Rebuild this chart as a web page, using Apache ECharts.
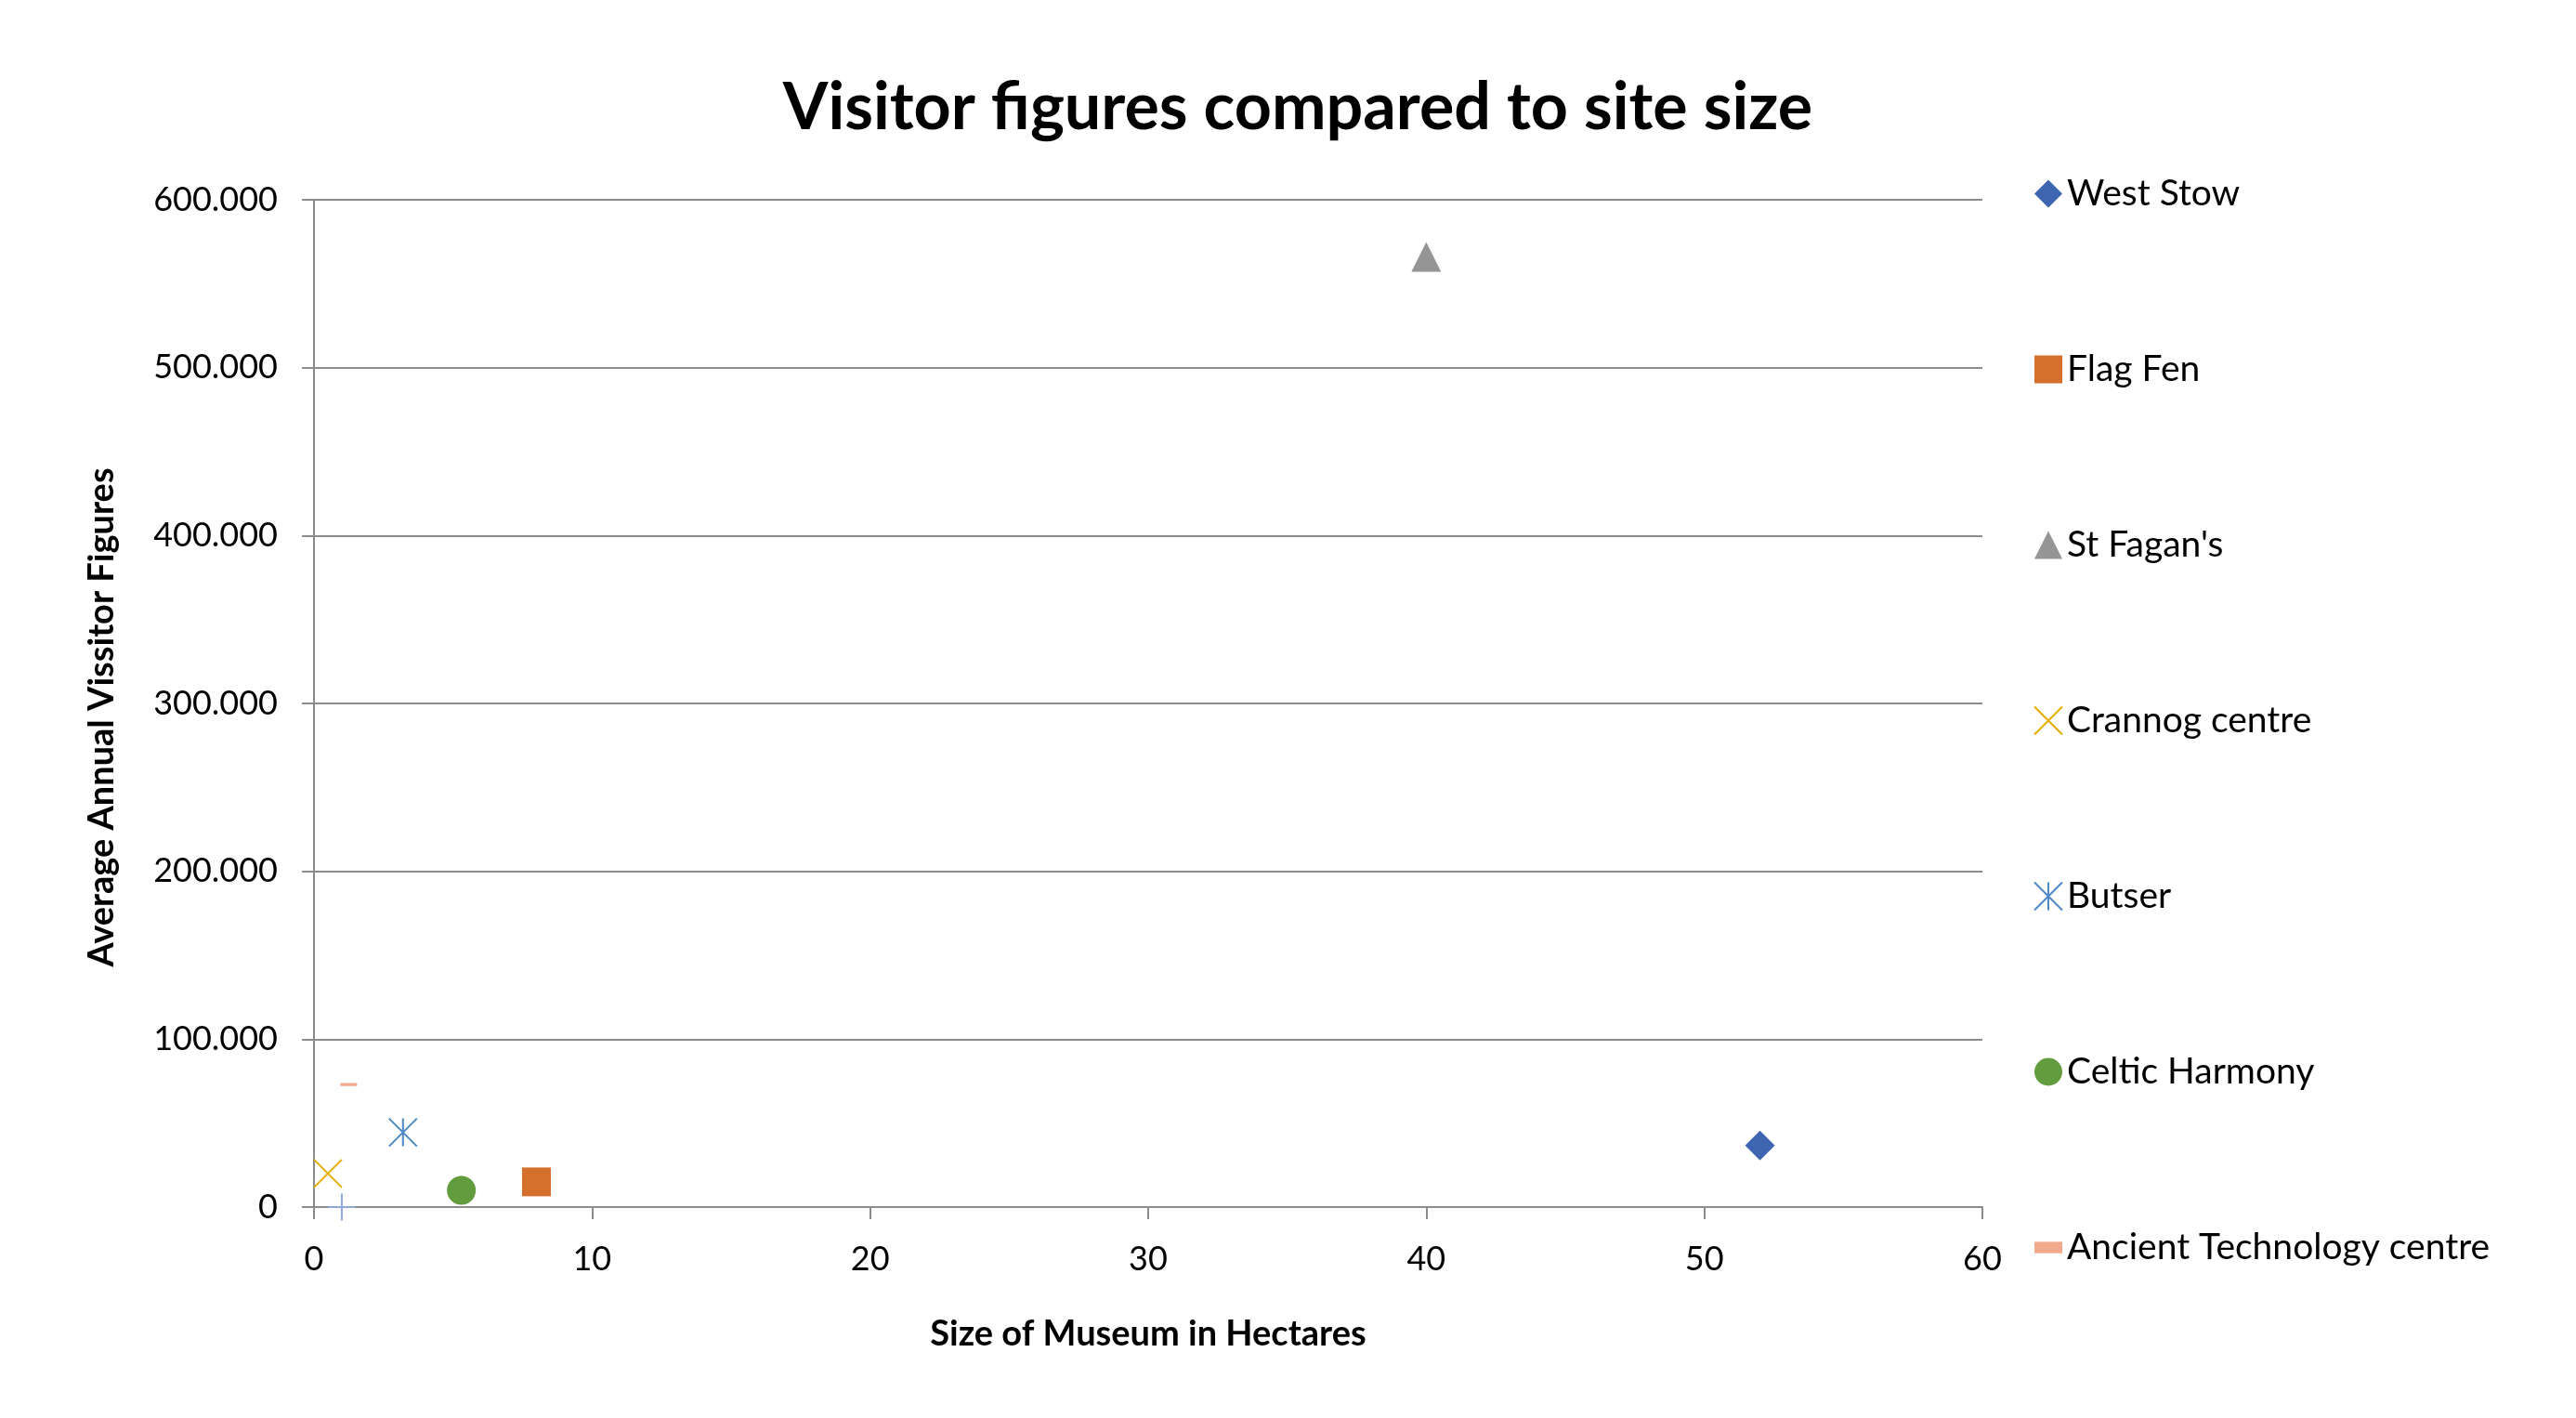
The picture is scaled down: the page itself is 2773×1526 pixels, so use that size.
<!DOCTYPE html>
<html>
<head>
<meta charset="utf-8">
<title>Visitor figures compared to site size</title>
<script src="https://cdn.jsdelivr.net/npm/echarts@6/dist/echarts.min.js"></script>
<style>
  html, body { margin: 0; padding: 0; background: #fff; }
  #chart { width: 2773px; height: 1526px; }
</style>
</head>
<body>
<div id="chart"></div>
<script>
// museums shown in the legend, in legend order
var siteNames = ['West Stow', 'Flag Fen', "St Fagan's", 'Crannog centre', 'Butser', 'Celtic Harmony', 'Ancient Technology centre'];
// site size in hectares
var siteSize = [52, 8, 40, 0.5, 3.2, 5.3, 1.25];
// average annual visitors
var siteVisitors = [36700, 15000, 566000, 20000, 44500, 10000, 73000];
// one extra point plotted without a legend entry
var extraPoint = [1, 0];

var xTicks = { min: 0, max: 60, step: 10 };
var yTicks = { min: 0, max: 600000, step: 100000 };

var colors = ['#3E66B0', '#D5702C', '#959595', '#E6AC00', '#4D88C5', '#629C3F', '#F3AA8C'];
var symbols = [
    'diamond',
    'rect',
    'triangle',
    'path://M0,0L10,10M10,0L0,10',
    'path://M0,0L10,10M10,0L0,10M5,0L5,10',
    'circle',
    'path://M0,0H17V7H0Z'
];
var sizes = [32, 31, 32, 30, 30, 31, [18, 8]];
var stroked = [false, false, false, true, true, false, false];

var font = 'Lato, "Open Sans", sans-serif';
var gridGray = '#8c8c8c';

var series = siteNames.map(function (name, i) {
    var style = stroked[i]
        ? { color: 'rgba(0,0,0,0)', borderColor: colors[i], borderWidth: 2, opacity: 1 }
        : { color: colors[i], opacity: 1 };
    return {
        name: name,
        type: 'scatter',
        symbol: symbols[i],
        symbolSize: sizes[i],
        symbolKeepAspect: true,
        itemStyle: style,
        data: [[siteSize[i], siteVisitors[i]]]
    };
});
series.push({
    name: 'extra',
    type: 'scatter',
    symbol: 'path://M0,5L10,5M5,0L5,10',
    symbolSize: 29,
    itemStyle: { color: 'rgba(0,0,0,0)', borderColor: '#8FA9DC', borderWidth: 2, opacity: 1 },
    data: [extraPoint]
});

var option = {
    animation: false,
    backgroundColor: '#fff',
    title: {
        text: 'Visitor figures compared to site size',
        left: 1392,
        top: 76,
        textAlign: 'center',
        textStyle: { fontFamily: font, fontWeight: 'bold', fontSize: 70, color: '#000' }
    },
    legend: {
        data: siteNames,
        orient: 'vertical',
        left: 2184,
        top: 184,
        itemWidth: 30,
        itemHeight: 30,
        itemGap: 150,
        textStyle: { fontFamily: font, fontSize: 39, color: '#000', padding: [0, 0, 0, 0] }
    },
    grid: { left: 338, right: 639, top: 215, bottom: 227, containLabel: false },
    xAxis: {
        type: 'value',
        min: xTicks.min,
        max: xTicks.max,
        interval: xTicks.step,
        name: 'Size of Museum in Hectares',
        nameLocation: 'middle',
        nameGap: 118,
        nameTextStyle: { fontFamily: font, fontWeight: 'bold', fontSize: 38, color: '#000' },
        axisLine: { show: true, lineStyle: { color: gridGray, width: 2 } },
        axisTick: { show: true, length: 13, lineStyle: { color: gridGray, width: 2 } },
        axisLabel: { fontFamily: font, fontSize: 36, color: '#000', margin: 38 },
        splitLine: { show: false }
    },
    yAxis: {
        type: 'value',
        min: yTicks.min,
        max: yTicks.max,
        interval: yTicks.step,
        name: 'Average Annual Vissitor Figures',
        nameLocation: 'middle',
        nameGap: 209,
        nameTextStyle: {
            fontFamily: font, fontWeight: 'bold', fontSize: 38, color: '#000',
            padding: [0, 30, 0, 0]
        },
        axisLine: { show: true, lineStyle: { color: gridGray, width: 2 } },
        axisTick: { show: true, length: 13, lineStyle: { color: gridGray, width: 2 } },
        axisLabel: {
            fontFamily: font, fontSize: 36, color: '#000', margin: 39,
            formatter: function (v) { return v === 0 ? '0' : (v / 1000) + '.000'; }
        },
        splitLine: { show: true, lineStyle: { color: gridGray, width: 2 } }
    },
    series: series
};

var myChart = echarts.init(document.getElementById('chart'));
myChart.setOption(option);
</script>
</body>
</html>
